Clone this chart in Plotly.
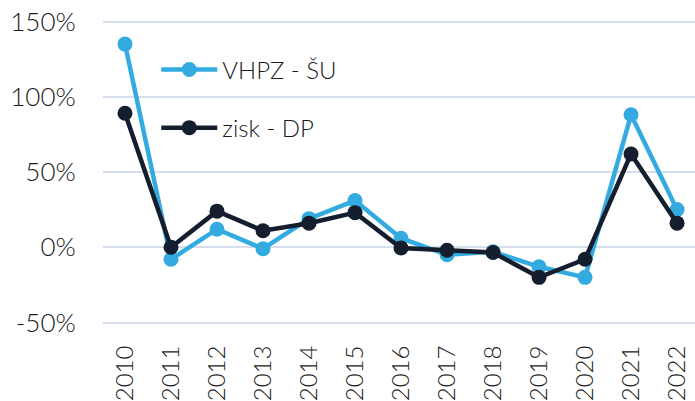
import plotly.graph_objects as go

years = ["2010", "2011", "2012", "2013", "2014", "2015", "2016",
         "2017", "2018", "2019", "2020", "2021", "2022"]
vhpz_su = [135, -8, 12, -1, 19, 31, 6, -5, -3, -13, -20, 88, 25]
zisk_dp = [89, 0, 24, 11, 16, 23, -0.5, -2, -3.5, -20, -8, 62, 16]
y_ticks = [-50, 0, 50, 100, 150]
y_tick_labels = ["-50%", "0%", "50%", "100%", "150%"]

LIGHT = "#33ABE0"
DARK = "#141E2E"
FONT = "Lato"
TXT = "#1a1a1a"

fig = go.Figure()
fig.add_trace(go.Scatter(
    x=years, y=vhpz_su, name="VHPZ - ŠU", mode="lines+markers",
    line=dict(color=LIGHT, width=4.5), marker=dict(color=LIGHT, size=15),
    legendgroup="a"))
fig.add_trace(go.Scatter(
    x=years, y=zisk_dp, name="zisk - DP", mode="lines+markers",
    line=dict(color=DARK, width=4.5), marker=dict(color=DARK, size=15),
    legendgroup="b"))

fig.update_layout(
    width=695, height=401,
    margin=dict(l=103, r=0, t=20, b=77, autoexpand=False),
    paper_bgcolor="white", plot_bgcolor="white",
    font=dict(family=FONT, size=25, color=TXT, weight=300),
    showlegend=True,
    legend=dict(x=0.09, y=0.91, xanchor="left", yanchor="top",
                bgcolor="rgba(0,0,0,0)",
                font=dict(family=FONT, size=24, color=TXT, weight=300),
                itemwidth=56, traceorder="grouped", tracegroupgap=24),
    xaxis=dict(type="category", range=[-0.478, 12.39], showgrid=False,
               zeroline=False, showline=False, tickangle=-90, automargin=False,
               ticks="outside", ticklen=11, tickcolor="white",
               tickfont=dict(family=FONT, size=24, color=TXT, weight=300)),
    yaxis=dict(range=[-51, 151], tickvals=y_ticks, ticktext=y_tick_labels,
               showgrid=True, gridcolor="#D6DEEB", gridwidth=2, automargin=False,
               zeroline=False, showline=False,
               ticks="outside", ticklen=21, tickcolor="white",
               tickfont=dict(family=FONT, size=26, color=TXT, weight=300)),
)

fig.write_html("out.html", config={"displayModeBar": False},
               post_script="document.body.style.margin='0';")
